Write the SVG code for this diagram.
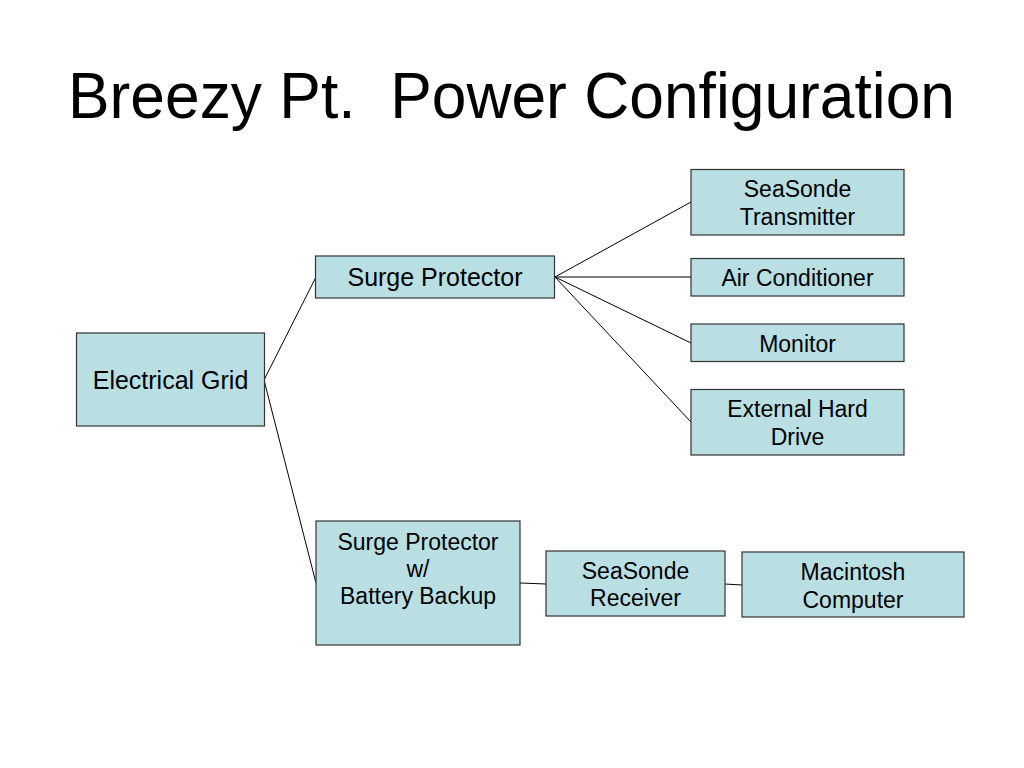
<svg xmlns="http://www.w3.org/2000/svg" width="1024" height="768" viewBox="0 0 1024 768">
<style>
.box{fill:#badfe2;stroke:#333;stroke-width:1.2}
.t{font-family:"Liberation Sans",Arial,sans-serif;font-size:25px;fill:#000;text-anchor:middle}
.s{font-size:23px}
.c{stroke:#000;stroke-width:1;fill:none}
</style>
<rect width="1024" height="768" fill="#fff"/>
<text x="68" y="118" font-family="Liberation Sans, Arial, sans-serif" font-size="64" textLength="887" lengthAdjust="spacingAndGlyphs" xml:space="preserve" style="white-space:pre">Breezy Pt.  Power Configuration</text>
<g id="connectors">
<line class="c" x1="264" y1="380" x2="316" y2="277"/>
<line class="c" x1="264" y1="380" x2="316" y2="583"/>
<line class="c" x1="555" y1="277" x2="691" y2="202"/>
<line class="c" x1="555" y1="277" x2="691" y2="277"/>
<line class="c" x1="555" y1="277" x2="691" y2="343"/>
<line class="c" x1="555" y1="277" x2="691" y2="422"/>
<line class="c" x1="520" y1="583" x2="546" y2="584"/>
<line class="c" x1="725" y1="584" x2="742" y2="585"/>
</g>
<g id="electrical-grid"><rect class="box" x="76.5" y="333" width="188" height="93"/><text class="t" x="170.5" y="389">Electrical Grid</text></g>
<g id="surge-protector"><rect class="box" x="315.5" y="256" width="239" height="42"/><text class="t" x="435" y="286">Surge Protector</text></g>
<g id="seasonde-transmitter"><rect class="box" x="691" y="169.5" width="213" height="65.5"/><text class="t s" x="797.5" y="197">SeaSonde</text><text class="t s" x="797.5" y="225">Transmitter</text></g>
<g id="air-conditioner"><rect class="box" x="691" y="258.5" width="213" height="37.5"/><text class="t s" x="797.5" y="286">Air Conditioner</text></g>
<g id="monitor"><rect class="box" x="691" y="324" width="213" height="37.5"/><text class="t s" x="797.5" y="352">Monitor</text></g>
<g id="external-hard-drive"><rect class="box" x="691" y="389.5" width="213" height="65.5"/><text class="t s" x="797.5" y="417">External Hard</text><text class="t s" x="797.5" y="445">Drive</text></g>
<g id="surge-battery"><rect class="box" x="316" y="521" width="204" height="124"/><text class="t s" x="418" y="550">Surge Protector</text><text class="t s" x="418" y="577">w/</text><text class="t s" x="418" y="604">Battery Backup</text></g>
<g id="seasonde-receiver"><rect class="box" x="546" y="551" width="179" height="65"/><text class="t s" x="635.5" y="579">SeaSonde</text><text class="t s" x="635.5" y="606">Receiver</text></g>
<g id="macintosh"><rect class="box" x="742" y="552" width="222" height="65"/><text class="t s" x="853" y="580">Macintosh</text><text class="t s" x="853" y="608">Computer</text></g>
</svg>
